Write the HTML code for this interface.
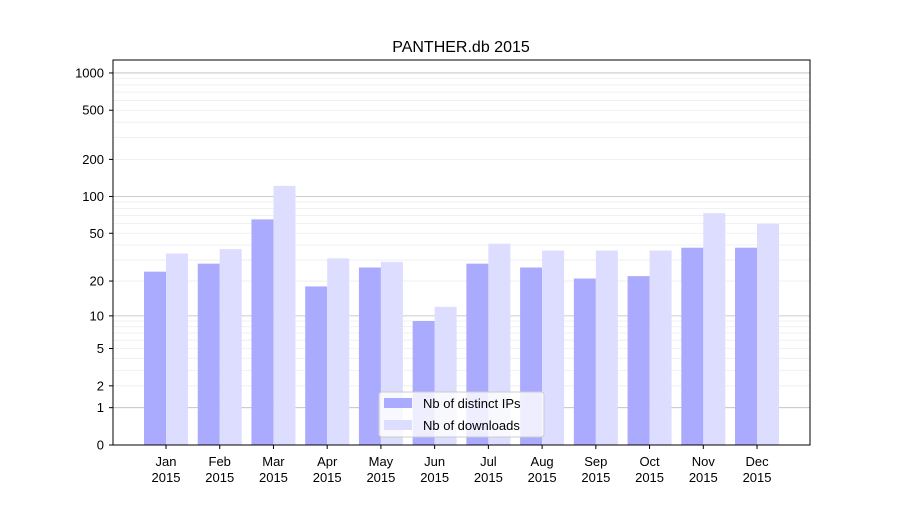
<!DOCTYPE html>
<html><head><meta charset="utf-8"><style>body{margin:0;background:#fff}svg{font-family:"Liberation Sans","DejaVu Sans",sans-serif}</style></head>
<body>
<svg id="chart" width="900" height="500">
<rect x="0" y="0" width="900" height="500" fill="#fff"/>
<text x="461" y="52" text-anchor="middle" font-size="16">PANTHER.db 2015</text>
<g id="grid"></g><g id="bars"></g><g id="axes"></g>
<rect x="113" y="60" width="697" height="385" fill="none" stroke="#000" stroke-width="1"/>
<g>
<rect x="379" y="392" width="165" height="45" fill="#fff" fill-opacity="0.8" stroke="#ccc" rx="3"/>
<rect x="384" y="398" width="28" height="10" fill="#aaaaff"/>
<text x="423" y="408" font-size="13">Nb of distinct IPs</text>
<rect x="384" y="420" width="28" height="10" fill="#ddddff"/>
<text x="423" y="430" font-size="13">Nb of downloads</text>
</g>
</svg>
<script>
const months = ["Jan","Feb","Mar","Apr","May","Jun","Jul","Aug","Sep","Oct","Nov","Dec"];
const ips = [24,28,65,18,26,9,28,26,21,22,38,38];
const downloads = [34,37,122,31,29,12,41,36,36,36,73,60];
const yTicks = [0,1,2,5,10,20,50,100,200,500,1000];
const NS="http://www.w3.org/2000/svg";
function y(v){return 445-124*Math.log10(1+v);}
function xc(i){return 166+i*53.73;}
function mk(tag,attrs,parent){const e=document.createElementNS(NS,tag);for(const k in attrs)e.setAttribute(k,attrs[k]);parent.appendChild(e);return e;}
const grid=document.getElementById('grid'),bars=document.getElementById('bars'),axes=document.getElementById('axes');
// minor grid
[1,10,100].forEach(d=>{for(let m=2;m<=9;m++){const yy=y(d*m);
const l=mk('line',{x1:113,x2:810,y1:yy,y2:yy,stroke:'#eee','stroke-width':0.8},grid);

}});
[1,10,100,1000].forEach(v=>{const yy=y(v);
const l=mk('line',{x1:113,x2:810,y1:yy,y2:yy,stroke:'#bbb','stroke-width':0.8},grid);

});
months.forEach((m,i)=>{
const c=xc(i);
const b1=mk('rect',{x:c-22,y:y(ips[i]),width:22,height:445-y(ips[i]),fill:'#aaaaff'},bars);


const b2=mk('rect',{x:c,y:y(downloads[i]),width:22,height:445-y(downloads[i]),fill:'#ddddff'},bars);


mk('line',{x1:c,x2:c,y1:445,y2:449,stroke:'#000'},axes);
const t=mk('text',{x:c,y:466,'text-anchor':'middle','font-size':13},axes);
t.textContent=m;


const t2=mk('text',{x:c,y:482,'text-anchor':'middle','font-size':13},axes);
t2.textContent='2015';


});
yTicks.forEach(v=>{const yy=y(v);
mk('line',{x1:109,x2:113,y1:yy,y2:yy,stroke:'#000'},axes);
const t=mk('text',{x:104,y:yy+4.5,'text-anchor':'end','font-size':13},axes);
t.textContent=v;

});
</script>
</body></html>
